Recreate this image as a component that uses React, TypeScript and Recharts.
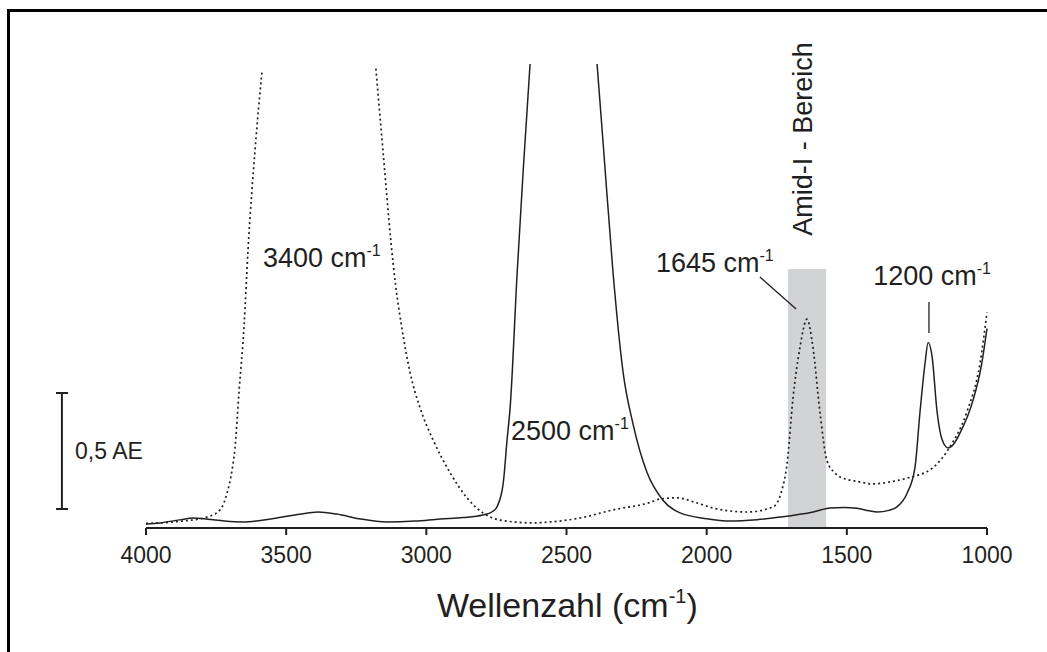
import React from 'react';
import { LineChart, Line, XAxis, YAxis, ReferenceArea, ReferenceLine, ReferenceDot } from 'recharts';

// H2O spectrum (dotted): wavenumber (cm-1) and absorbance (AE); null = off-scale
const h2oWn = [4000, 3950, 3903, 3868, 3783, 3736, 3711, 3693, 3683, 3668, 3650, 3636, 3611, 3586, 3400, 3180, 3155, 3126, 3110, 3087, 3058, 3023, 2976, 2916, 2855, 2798, 2737, 2620, 2559, 2452, 2334, 2202, 2166, 2106, 2040, 1977, 1856, 1763, 1735, 1713, 1692, 1667, 1642, 1621, 1596, 1571, 1545, 1524, 1460, 1407, 1340, 1285, 1193, 1132, 1072, 1025, 1000];
const h2oAbs: (number | null)[] = [0.02, 0.022, 0.026, 0.03, 0.047, 0.078, 0.15, 0.25, 0.34, 0.59, 0.875, 1.2, 1.63, 1.97, null, 1.98, 1.63, 1.23, 1.05, 0.86, 0.67, 0.52, 0.38, 0.24, 0.13, 0.065, 0.034, 0.022, 0.026, 0.043, 0.078, 0.11, 0.125, 0.13, 0.11, 0.086, 0.069, 0.091, 0.15, 0.28, 0.56, 0.78, 0.9, 0.78, 0.5, 0.29, 0.24, 0.22, 0.2, 0.19, 0.2, 0.215, 0.26, 0.35, 0.5, 0.71, 0.93];

// D2O spectrum (solid)
const d2oWn = [4000, 3950, 3880, 3832, 3780, 3720, 3654, 3560, 3460, 3386, 3320, 3240, 3140, 3040, 2951, 2870, 2798, 2765, 2748, 2726, 2712, 2701, 2676, 2655, 2630, 2500, 2391, 2370, 2334, 2298, 2263, 2213, 2156, 2095, 2000, 1917, 1820, 1738, 1620, 1560, 1510, 1464, 1420, 1392, 1350, 1321, 1285, 1257, 1239, 1221, 1210, 1196, 1178, 1160, 1139, 1120, 1096, 1050, 1020, 1000];
const d2oAbs: (number | null)[] = [0.017, 0.022, 0.035, 0.043, 0.038, 0.03, 0.026, 0.038, 0.058, 0.069, 0.06, 0.04, 0.026, 0.03, 0.039, 0.045, 0.056, 0.07, 0.091, 0.19, 0.38, 0.52, 1.1, 1.53, 2.0, null, 2.0, 1.67, 1.1, 0.67, 0.45, 0.24, 0.12, 0.065, 0.04, 0.03, 0.036, 0.047, 0.069, 0.086, 0.088, 0.085, 0.074, 0.069, 0.076, 0.091, 0.15, 0.26, 0.5, 0.71, 0.8, 0.74, 0.5, 0.38, 0.345, 0.36, 0.41, 0.55, 0.7, 0.86];

const xTicks = [4000, 3500, 3000, 2500, 2000, 1500, 1000];

const h2oData = h2oWn.map((wn, i) => ({ wn, a: h2oAbs[i] }));
const d2oData = d2oWn.map((wn, i) => ({ wn, a: d2oAbs[i] }));

const FONT = 'Liberation Sans, Arial, Helvetica, sans-serif';
const INK = '#231f20';

const supLabel = (base: string, fontSize: number, supSize: number, supDy: number, anchor: 'start' | 'middle' = 'start', after?: string) =>
  (p: any) => (
    <text x={p.cx} y={p.cy} fontFamily={FONT} fontSize={fontSize} fill={INK} textAnchor={anchor}>
      <tspan>{base}</tspan>
      <tspan dy={-supDy} fontSize={supSize}>-1</tspan>
      {after ? <tspan dy={supDy} fontSize={fontSize}>{after}</tspan> : null}
    </text>
  );

const plainLabel = (txt: string, fontSize: number) => (p: any) => (
  <text x={p.cx} y={p.cy} fontFamily={FONT} fontSize={fontSize} fill={INK}>{txt}</text>
);

const rotatedLabel = (txt: string, fontSize: number) => (p: any) => (
  <text x={p.cx} y={p.cy} fontFamily={FONT} fontSize={fontSize} fill={INK} textAnchor="middle" transform={`rotate(-90 ${p.cx} ${p.cy})`}>{txt}</text>
);

export default function App() {
  return (
    <div style={{ position: 'absolute', left: 0, top: 0, width: 1047, height: 652, background: '#fff' }}>
      <div style={{ position: 'absolute', left: 7, top: 9, width: 1040, height: 643, borderLeft: `3px solid #000`, borderTop: `3px solid #000`, boxSizing: 'border-box' }} />
      <div style={{ position: 'absolute', left: 0, top: 0 }}>
        <LineChart width={1047} height={652} margin={{ top: 64, right: 60, bottom: 34, left: 146 }}>
          <XAxis
            type="number"
            dataKey="wn"
            domain={[1000, 4000]}
            reversed
            ticks={xTicks}
            interval={0}
            height={90}
            tickSize={7}
            tickMargin={12}
            axisLine={{ stroke: INK, strokeWidth: 2 }}
            tickLine={{ stroke: INK, strokeWidth: 2 }}
            tick={{ fill: INK, fontSize: 23, fontFamily: FONT }}
          />
          <YAxis type="number" domain={[0, 2]} hide allowDataOverflow />
          <ReferenceArea x1={1710} x2={1574} y1={0} y2={1.116} fill="#d1d3d4" fillOpacity={1} stroke="none" ifOverflow="visible" />
          <Line data={h2oData} dataKey="a" type="monotone" stroke={INK} strokeWidth={1.7} strokeDasharray="2 3" dot={false} connectNulls={false} isAnimationActive={false} />
          <Line data={d2oData} dataKey="a" type="monotone" stroke={INK} strokeWidth={1.5} dot={false} connectNulls={false} isAnimationActive={false} />

          {/* leader lines */}
          <ReferenceLine segment={[{ x: 1810, y: 1.082 }, { x: 1681, y: 0.944 }]} stroke={INK} strokeWidth={1.3} ifOverflow="visible" />
          <ReferenceLine segment={[{ x: 1207, y: 0.974 }, { x: 1207, y: 0.841 }]} stroke={INK} strokeWidth={1.3} ifOverflow="visible" />

          {/* scale bar 0,5 AE */}
          <ReferenceLine segment={[{ x: 4300, y: 0.082 }, { x: 4300, y: 0.582 }]} stroke={INK} strokeWidth={2} ifOverflow="visible" />
          <ReferenceLine segment={[{ x: 4321, y: 0.582 }, { x: 4278, y: 0.582 }]} stroke={INK} strokeWidth={2} ifOverflow="visible" />
          <ReferenceLine segment={[{ x: 4321, y: 0.082 }, { x: 4278, y: 0.082 }]} stroke={INK} strokeWidth={2} ifOverflow="visible" />
          <ReferenceDot x={4253} y={0.297} r={1} ifOverflow="visible" shape={plainLabel('0,5 AE', 23)} />

          {/* band labels */}
          <ReferenceDot x={3583} y={1.125} r={1} ifOverflow="visible" shape={supLabel('3400 cm', 27, 16, 11)} />
          <ReferenceDot x={2698} y={0.379} r={1} ifOverflow="visible" shape={supLabel('2500 cm', 27, 16, 11)} />
          <ReferenceDot x={2181} y={1.103} r={1} ifOverflow="visible" shape={supLabel('1645 cm', 27, 16, 11)} />
          <ReferenceDot x={1406} y={1.047} r={1} ifOverflow="visible" shape={supLabel('1200 cm', 27, 16, 11)} />
          <ReferenceDot x={1624} y={1.677} r={1} ifOverflow="visible" shape={rotatedLabel('Amid-I - Bereich', 27)} />

          {/* axis title */}
          <ReferenceDot x={2497} y={-0.384} r={1} ifOverflow="visible" shape={supLabel('Wellenzahl (cm', 34, 20, 14, 'middle', ')')} />
        </LineChart>
      </div>
    </div>
  );
}
